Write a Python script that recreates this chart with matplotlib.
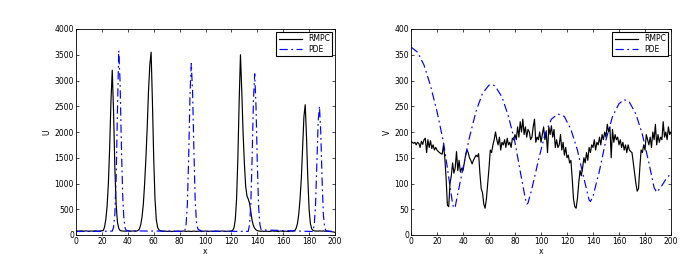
import numpy as np
import matplotlib
matplotlib.use("Agg")
import matplotlib.pyplot as plt

# ---- U panel data ----
u_rmpc_x = list(range(0, 201))
u_rmpc = [80, 78, 75, 77, 80, 76, 74, 78, 79, 75, 72, 76, 78, 74, 77, 80, 75, 73, 76, 78, 80, 85,
          150, 300, 550, 1000, 1700, 2600, 3200, 2400, 1300, 600, 250, 130, 90, 80,
          78, 76, 74, 77, 80, 75, 73, 76, 79, 77, 74, 78, 90, 120,
          200, 350, 600, 1000, 1500, 2100, 2800, 3300, 3550, 2600, 1500, 700, 300, 150, 100, 85,
          78, 74, 72, 76, 70, 73, 75, 71, 68, 72, 74, 70, 73, 76, 72, 69, 74, 78, 73, 70,
          72, 75, 71, 68, 73, 77, 74, 70, 72, 76, 73, 69, 71, 75, 78, 72, 70, 74, 76, 71,
          69, 73, 77, 74, 70, 72, 75, 79, 73, 70, 74, 72, 76, 71, 80,
          90, 140, 300, 700, 1500, 2600, 3500, 2800, 2000, 1400, 950, 760, 700, 620, 450, 280,
          180, 130, 100, 85,
          78, 74, 72, 76, 70, 73, 75, 71, 68, 72, 74, 79, 73, 76, 72, 69, 74, 78, 73, 70,
          72, 75, 71, 68, 73, 77, 74, 78,
          90, 130, 220, 400, 700, 1100, 1700, 2300, 2530, 1900, 1100, 500, 220, 120, 90,
          80, 76, 78, 74, 80, 77, 75, 79, 73, 76, 74, 72, 70, 66, 62, 58, 50]

u_pde_x = [0, 28, 29, 30, 31, 32, 33, 34, 35, 36, 37, 38, 39,
           84, 85, 86, 87, 88, 89, 90, 91, 92, 93, 94, 95, 96, 97,
           133, 134, 135, 136, 137, 138, 139, 140, 141, 142, 143,
           183, 184, 185, 186, 187, 188, 189, 190, 191, 192, 193, 200]
u_pde = [68, 75, 150, 400, 1100, 2400, 3580, 3000, 1800, 800, 300, 130, 80,
         72, 200, 600, 1500, 2700, 3330, 2800, 1700, 700, 250, 120, 100, 90, 75,
         70, 200, 600, 1500, 2600, 3130, 2500, 1400, 550, 200, 100,
         68, 200, 600, 1400, 2200, 2500, 2000, 1100, 400, 150, 80, 66]

# ---- V panel data ----
v_rmpc_x = list(range(0, 201))
v_rmpc = [182, 180, 178, 180, 175, 180, 178, 170, 182, 176, 185, 188, 160, 185, 170, 183, 168,
          175, 165, 170, 165, 162, 160, 158, 157, 175,
          150, 110, 58, 55, 100, 115, 140, 120, 130, 162, 125, 145, 122, 130, 125, 140, 155,
          165, 160, 150, 145, 138, 145, 150, 155, 152, 158, 120, 90, 82, 60, 52, 70, 100,
          130, 165, 160, 175, 185, 200, 185, 175, 190, 165, 180, 175, 185, 170, 188, 175,
          180, 170, 188, 185, 195, 185, 210, 190, 220, 200, 225, 195, 210, 190, 205, 200,
          185, 190, 210, 225, 180, 190, 185, 200, 180, 195, 210, 185, 200, 160, 210, 195,
          212, 190, 205, 170, 185, 170, 175, 195, 165, 180, 155, 170, 150, 155, 140, 145,
          110, 70, 55, 52, 70, 100, 125, 115, 130, 150, 140, 160, 145, 170, 160, 175, 170,
          185, 165, 180, 175, 190, 175, 195, 185, 200, 190, 215, 200, 210, 150, 205, 180,
          195, 185, 190, 175, 185, 170, 180, 165, 175, 160, 175, 165, 162, 160, 140, 120,
          100, 85, 90, 130, 165, 160, 175, 165, 195, 185, 175, 190, 170, 200, 185, 215, 175,
          195, 180, 190, 185, 220, 190, 200, 185, 210, 195, 200]

v_pde_x = [0, 5, 10, 15, 20, 25, 28, 30, 32, 33, 34, 36, 40, 45, 50, 55, 60, 63, 65, 70, 75,
           80, 85, 88, 89, 90, 93, 98, 103, 108, 113, 118, 123, 128, 133, 137, 138, 140, 145,
           150, 155, 160, 164, 168, 173, 178, 183, 187, 189, 192, 196, 200]
v_pde = [365, 355, 330, 290, 240, 180, 130, 95, 60, 52, 55, 80, 130, 190, 240, 275, 291, 292,
         288, 268, 230, 180, 110, 70, 60, 62, 90, 145, 195, 225, 235, 230, 205, 165, 110, 68,
         65, 75, 125, 185, 230, 255, 263, 258, 235, 195, 140, 92, 83, 92, 108, 120]

fs = 5.5
dash = (7, 3, 1.5, 3)
fig = plt.figure(figsize=(7.0, 2.59), dpi=100)
ax1 = fig.add_axes([76 / 700, 24 / 259, 259 / 700, 206 / 259])
ax2 = fig.add_axes([411 / 700, 24 / 259, 260 / 700, 206 / 259])

ax1.plot(u_rmpc_x, u_rmpc, color='black', lw=0.85, label='RMPC')
ax1.plot(u_pde_x, u_pde, color='blue', lw=0.85, ls='-.', dashes=dash, label='PDE')
ax1.set_ylim(0, 4000)
ax1.set_yticks(np.arange(0, 4001, 500))
ax1.set_ylabel('U', fontsize=fs, labelpad=2)

ax2.plot(v_rmpc_x, v_rmpc, color='black', lw=0.85, label='RMPC')
ax2.plot(v_pde_x, v_pde, color='blue', lw=0.85, ls='-.', dashes=dash, label='PDE')
ax2.set_ylim(0, 400)
ax2.set_yticks(np.arange(0, 401, 50))
ax2.set_ylabel('V', fontsize=fs, labelpad=2)

for ax in (ax1, ax2):
    ax.set_xlim(0, 200)
    ax.set_xticks(np.arange(0, 201, 20))
    ax.set_xlabel('x', fontsize=fs, labelpad=1)
    ax.tick_params(direction='in', top=True, right=True, length=2.5, width=0.5,
                   labelsize=fs, pad=1.5)
    for s in ax.spines.values():
        s.set_linewidth(0.6)
    leg = ax.legend(loc='upper right', fontsize=fs, fancybox=False, framealpha=1,
                    edgecolor='black', handlelength=3, borderpad=0.3, labelspacing=0.2,
                    borderaxespad=0.4)
    leg.get_frame().set_linewidth(0.8)

plt.savefig('out.png', dpi=100)
